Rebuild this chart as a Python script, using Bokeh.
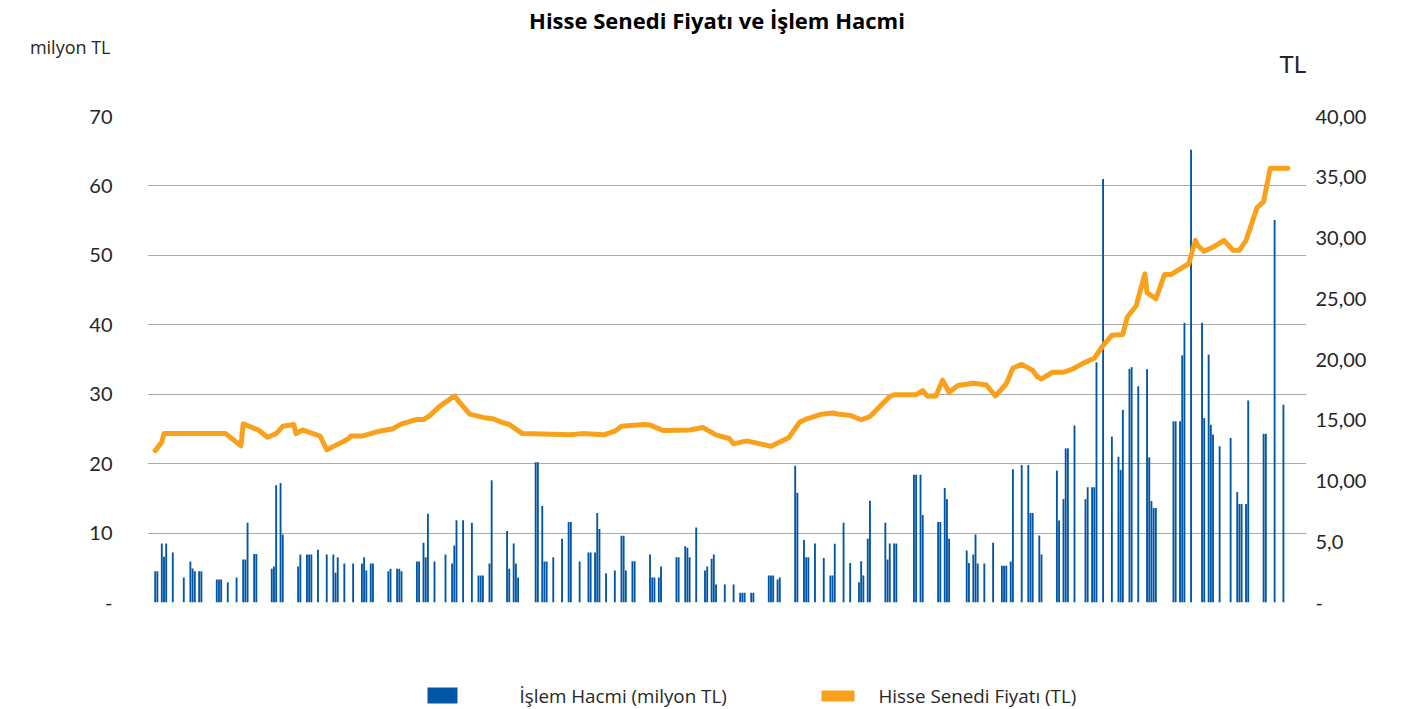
from bokeh.plotting import figure
from bokeh.layouts import column
from bokeh.models import Range1d, LinearAxis, FixedTicker
from bokeh.core.properties import value
from bokeh.embed import file_html
from bokeh.resources import INLINE

# ---------------- data ----------------
N_DAYS = 527

vol_day = [3, 4, 6, 7, 8, 11, 16, 19, 20, 21, 23, 24, 31, 32, 33, 36, 40, 43, 44, 45, 48, 49,
           56, 57, 58, 60, 61, 68, 69, 72, 73, 74, 77, 81, 84, 85, 86, 89, 93, 97, 98, 99, 101, 102,
           109, 110, 113, 114, 115, 122, 123, 125, 126, 127, 130, 135, 138, 139, 140, 143, 147,
           150, 151, 152, 155, 156, 163, 164, 166, 167, 168, 176, 177, 179, 180, 181, 184, 188,
           191, 192, 196, 200, 201, 203, 204, 205, 208,
           212, 215, 216, 217, 220, 221, 228, 229, 230, 232, 233, 240, 241, 244, 245, 246, 249,
           253, 254, 256, 257, 258, 262, 266, 269, 270, 271, 274, 275, 282, 283, 284, 286, 287,
           294, 295, 298, 299, 300, 303, 307, 310, 311, 312,
           316, 319, 323, 324, 325, 327, 328, 335, 336, 337, 339, 340, 348, 349, 351, 352, 359,
           360, 362, 363, 364, 372, 373, 375, 376, 377, 380, 384, 388, 389, 390, 392, 393, 397,
           400, 401, 402, 405, 406, 413, 414, 416, 417, 418,
           421, 426, 427, 429, 430, 431, 434, 438, 441, 442, 443, 446, 447, 450, 454, 455, 456,
           457, 458, 466, 467, 469, 470, 471, 474, 479, 480, 482, 483, 484, 487, 492, 495, 496,
           497, 499, 500, 507, 508, 512, 516]

vol_value = [4.5, 4.5, 8.5, 6.6, 8.5, 7.2, 3.6, 5.9, 4.9, 4.5, 4.5, 4.5, 3.3, 3.3, 3.3, 2.9, 3.6, 6.2, 6.2, 11.5, 7.0, 7.0,
             4.85, 5.2, 16.9, 17.2, 9.8, 5.2, 6.9, 6.9, 6.9, 6.9, 7.6, 6.9, 6.9, 4.3, 6.5, 5.6, 5.6, 5.6, 6.5, 4.6, 5.6, 5.6,
             4.5, 4.85, 4.85, 4.85, 4.5, 5.9, 5.9, 8.6, 6.5, 12.8, 5.9, 6.9, 5.6, 8.2, 11.85, 11.85, 11.5,
             3.9, 3.9, 3.9, 5.6, 17.6, 10.3, 4.85, 8.5, 5.6, 3.6, 20.2, 20.2, 13.9, 5.9, 5.9, 6.5, 9.2,
             11.6, 11.6, 5.9, 7.2, 7.2, 7.2, 12.9, 10.6, 4.2,
             4.6, 9.6, 9.6, 4.6, 5.95, 5.95, 6.9, 3.6, 3.6, 3.6, 5.2, 6.5, 6.5, 8.1, 7.9, 6.5, 10.8,
             4.6, 5.2, 6.3, 6.9, 2.6, 2.6, 2.6, 1.4, 1.4, 1.4, 1.4, 1.4, 3.9, 3.9, 3.9, 3.3, 3.6,
             19.7, 15.8, 9.0, 6.5, 6.5, 8.5, 6.4, 3.9, 3.9, 8.45,
             11.5, 5.7, 2.9, 5.95, 3.9, 9.2, 14.65, 11.5, 6.2, 8.5, 8.5, 8.5, 18.4, 18.4, 18.4, 12.6, 11.6,
             11.6, 16.5, 14.9, 9.2, 7.5, 5.7, 6.9, 9.8, 5.6, 5.6, 8.6, 5.3, 5.3, 5.3, 5.9, 19.2, 19.8,
             19.8, 12.9, 12.9, 9.65, 6.9, 19.0, 11.8, 14.9, 22.2, 22.2,
             25.5, 14.9, 16.6, 16.6, 16.6, 34.6, 61.0, 23.9, 21.0, 19.1, 27.75, 33.65, 33.9, 31.15, 33.6, 20.9, 14.6,
             13.6, 13.6, 26.1, 26.1, 26.1, 35.6, 40.3, 65.2, 40.3, 26.55, 35.7, 25.6, 24.2, 22.5, 23.7, 15.9, 14.2,
             14.2, 14.2, 29.1, 24.3, 24.3, 55.1, 28.5]

price_day = [3, 6, 7, 35, 42, 43, 50, 54, 58, 61, 66, 67, 70, 78, 81, 88, 91, 92, 97, 105, 111, 115,
             122, 125, 128, 132, 139, 142, 146, 153, 157, 161, 164, 170, 192, 197, 207, 212, 215,
             225, 228, 234, 246, 252, 258, 264, 266, 272, 283, 291, 296, 299, 306, 311, 314, 319,
             324, 328, 337, 339, 349, 352, 354, 358, 361, 364, 368, 375, 381, 385, 390, 393, 397,
             402, 404, 406, 411, 416, 420, 425, 430, 434, 438, 443, 445, 449, 453, 454, 458, 462,
             465, 473, 476, 477, 480, 484, 489, 493, 496, 499, 504, 507, 510, 518]

price_value = [12.5, 13.2, 13.9, 13.9, 12.9, 14.7, 14.2, 13.6, 13.9, 14.5, 14.65, 13.9, 14.2, 13.7, 12.57,
               13.2, 13.5, 13.7, 13.7, 14.1, 14.3, 14.7,
               15.06, 15.06, 15.4, 16.1, 17.0, 16.35, 15.5, 15.2, 15.1, 14.8, 14.65, 13.9, 13.8, 13.9, 13.8, 14.1, 14.5,
               14.65, 14.6, 14.16, 14.2, 14.4, 13.8, 13.5, 13.06, 13.3, 12.86, 13.55, 14.84, 15.1, 15.5, 15.6, 15.5, 15.4,
               15.04, 15.3, 16.95, 17.1, 17.1, 17.45, 17.0, 17.0, 18.3, 17.3, 17.86, 18.05, 17.9, 17.0, 18.0, 19.3, 19.6,
               19.1, 18.6, 18.4, 18.95, 18.95, 19.2, 19.7, 20.1, 21.15, 22.0, 22.06, 23.5, 24.4, 27.05, 25.5, 25.0, 27.0,
               27.0, 27.9, 29.8, 29.4, 28.9, 29.25, 29.8, 29.0, 29.0, 29.8, 32.5, 33.0, 35.75, 35.75]

left_ticks = [0, 10, 20, 30, 40, 50, 60, 70]
left_tick_labels = ["-", "10", "20", "30", "40", "50", "60", "70"]
right_ticks = [0, 5, 10, 15, 20, 25, 30, 35, 40]
right_tick_labels = ["-", "5,0", "10,00", "15,00", "20,00", "25,00", "30,00", "35,00", "40,00"]

title_text = "Hisse Senedi Fiyatı ve İşlem Hacmi"
left_unit = "milyon TL"
right_unit = "TL"
vol_label = "İşlem Hacmi (milyon TL)"
price_label = "Hisse Senedi Fiyatı (TL)"

# ---------------- style ----------------
BLUE = "#0256A6"
ORANGE = "#F9A11B"
GRID = "#ABABAB"
TEXT = "#262626"
TICK_FONT = "Lato"
TEXT_FONT = "Open Sans"

W = 1401
TOP_H, MAIN_H, BOT_H = 100, 520, 89
FRAME_L, FRAME_R, FRAME_T, FRAME_B = 147, 1306, 116, 602
VOL_MAX, PRICE_MAX = 70, 40


def strip(height, y0):
    # frame of a strip is aligned with the main frame by the column layout;
    # its ranges are in page pixels so that layout texts can be placed directly
    f = figure(width=W, height=height, x_range=Range1d(FRAME_L, FRAME_R),
               y_range=Range1d(y0 + height, y0), x_axis_location=None,
               y_axis_location=None, output_backend="svg", toolbar_location=None,
               min_border=0)
    f.outline_line_color = None
    f.grid.visible = False
    return f


# ---- top strip: title and unit labels ----
ptop = figure(width=W, height=TOP_H, x_range=Range1d(FRAME_L, FRAME_R),
              y_range=Range1d(TOP_H, 0), x_axis_location=None, y_axis_location="left",
              output_backend="svg", toolbar_location=None, min_border=0)
ptop.outline_line_color = None
ptop.grid.visible = False
ua = ptop.yaxis[0]
ua.ticker = FixedTicker(ticks=[46])
ua.major_label_overrides = {46: left_unit}
ua.axis_line_color = None
ua.major_tick_line_color = None
ua.minor_tick_line_color = None
ua.major_tick_out = 0
ua.major_tick_in = 0
ua.major_label_standoff = FRAME_L - 110
ua.major_label_text_font = TEXT_FONT
ua.major_label_text_font_size = "18px"
ua.major_label_text_color = TEXT

ptop.text(x=[716.5], y=[19], text=[title_text], text_align="center", text_baseline="middle",
          text_font=value(TEXT_FONT), text_font_style="bold", text_font_size="22px",
          text_color="#000000")
ptop.text(x=[1305.5], y=[63], text=[right_unit], text_align="right", text_baseline="middle",
          text_font=value(TICK_FONT), text_font_size="24px", text_color=TEXT)

# ---- main chart ----
p = figure(width=W, height=MAIN_H,
           x_range=Range1d(0, N_DAYS), y_range=Range1d(0, VOL_MAX),
           x_axis_location=None,
           output_backend="svg", toolbar_location=None,
           min_border_left=FRAME_L, min_border_right=W - FRAME_R,
           min_border_top=FRAME_T - TOP_H, min_border_bottom=TOP_H + MAIN_H - FRAME_B)
p.extra_y_ranges = {"price": Range1d(0, PRICE_MAX)}
p.outline_line_color = None
p.xgrid.visible = False
p.ygrid.ticker = FixedTicker(ticks=left_ticks)
p.ygrid.grid_line_color = GRID
p.ygrid.grid_line_width = 1

la = p.yaxis[0]
la.ticker = FixedTicker(ticks=left_ticks)
la.major_label_overrides = {t: l for t, l in zip(left_ticks, left_tick_labels)}
la.axis_line_color = None
la.major_tick_line_color = None
la.minor_tick_line_color = None
la.major_tick_out = 0
la.major_tick_in = 0
la.major_label_standoff = 35
la.major_label_text_font = TICK_FONT
la.major_label_text_font_size = "20px"
la.major_label_text_color = TEXT

ra = LinearAxis(y_range_name="price", ticker=FixedTicker(ticks=right_ticks),
                major_label_overrides={t: l for t, l in zip(right_ticks, right_tick_labels)},
                axis_line_color=None, major_tick_line_color=None, minor_tick_line_color=None,
                major_tick_out=0, major_tick_in=0, major_label_standoff=9,
                major_label_text_font=TICK_FONT, major_label_text_font_size="20px",
                major_label_text_color=TEXT)
p.add_layout(ra, "right")

p.vbar(x=[d + 0.5 for d in vol_day], top=vol_value, width=0.85,
       fill_color=BLUE, line_color=None)
p.line(x=[d + 0.5 for d in price_day], y=price_value, y_range_name="price",
       line_color=ORANGE, line_width=5, line_join="round", line_cap="round")

# ---- bottom strip: legend ----
y_bot = TOP_H + MAIN_H
pbot = strip(BOT_H, y_bot)
pbot.quad(left=[427], right=[457], top=[687], bottom=[703], fill_color=BLUE, line_color=None)
pbot.text(x=[519], y=[695.5], text=[vol_label], text_align="left", text_baseline="middle",
          text_font=value(TEXT_FONT), text_font_size="18.8px", text_color=TEXT)
pbot.quad(left=[821], right=[854], top=[690], bottom=[701], fill_color=ORANGE, line_color=None)
pbot.text(x=[878], y=[695.5], text=[price_label], text_align="left", text_baseline="middle",
          text_font=value(TEXT_FONT), text_font_size="18.8px", text_color=TEXT)

layout = column(ptop, p, pbot, spacing=0)
open("out.html", "w").write(file_html(layout, INLINE))
